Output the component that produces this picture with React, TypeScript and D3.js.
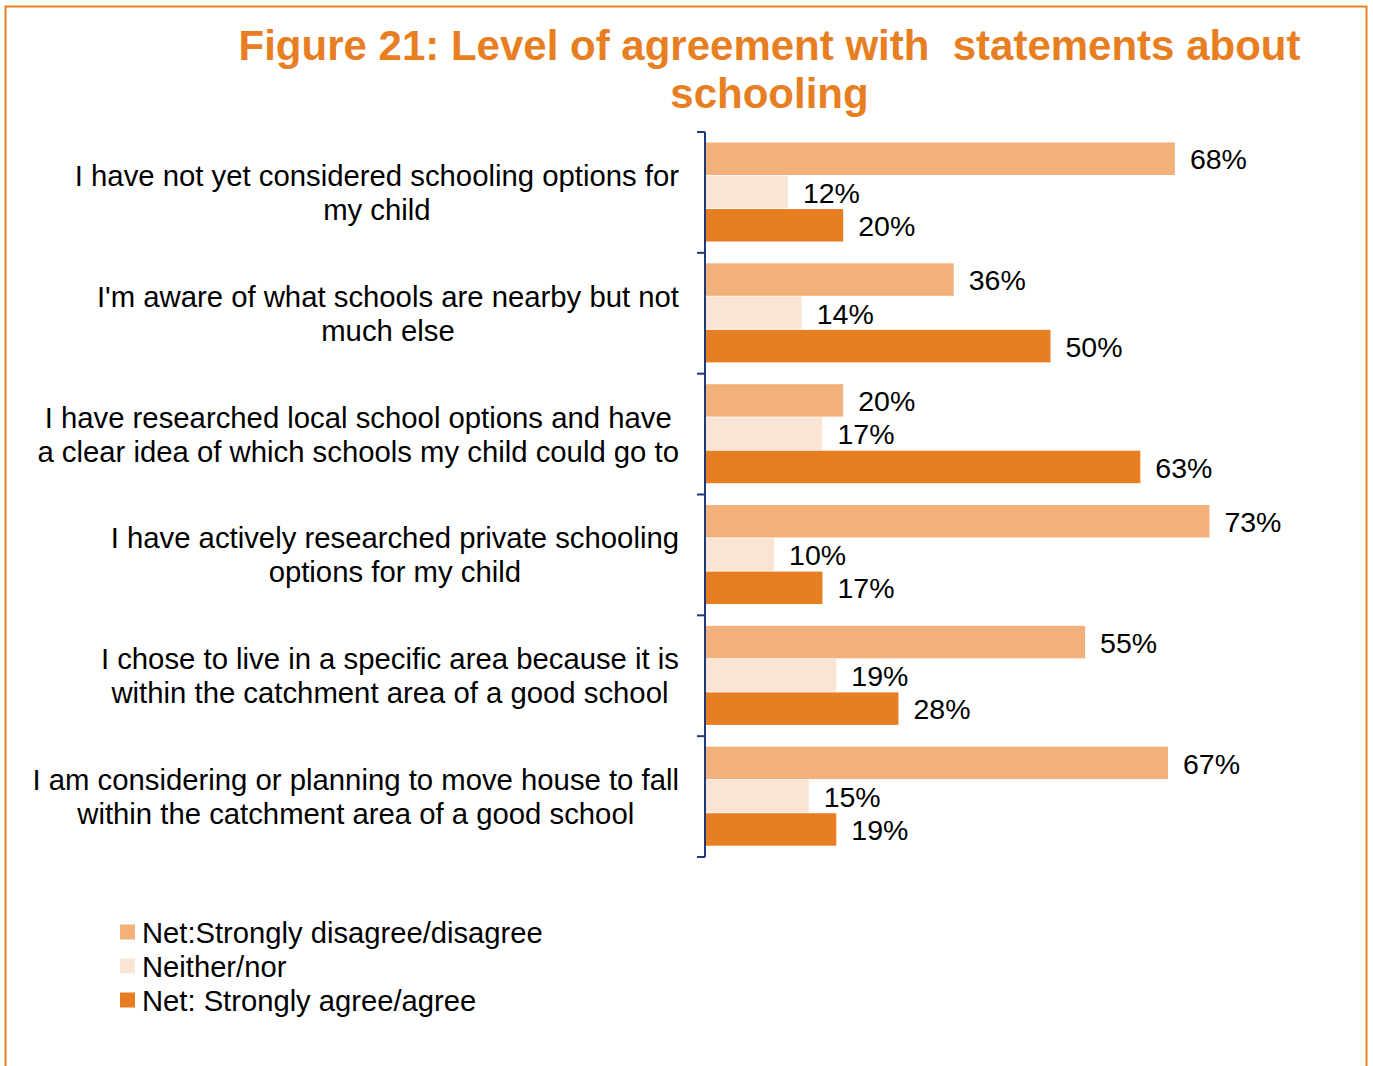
import React, { useEffect, useRef } from "react";
import * as d3 from "d3";

const titleLines = ["Figure 21: Level of agreement with  statements about", "schooling"];
const categories = [
  ["I have not yet considered schooling options for", "my child"],
  ["I'm aware of what schools are nearby but not", "much else"],
  ["I have researched local school options and have", "a clear idea of which schools my child could go to"],
  ["I have actively researched private schooling", "options for my child"],
  ["I chose to live in a specific area because it is", "within the catchment area of a good school"],
  ["I am considering or planning to move house to fall", "within the catchment area of a good school"],
];
const seriesNames = ["Net:Strongly disagree/disagree", "Neither/nor", "Net: Strongly agree/agree"];
const disagree = [68, 36, 20, 73, 55, 67];
const neither = [12, 14, 17, 10, 19, 15];
const agree = [20, 50, 63, 17, 28, 19];
const seriesColors = ["#F2B07A", "#FAE4D4", "#E87E22"];

const W = 1373;
const H = 1066;
const FONT = "'Liberation Sans', Arial, sans-serif";

export default function App() {
  const ref = useRef<SVGSVGElement | null>(null);

  useEffect(() => {
    const svg = d3.select(ref.current);
    svg.selectAll("*").remove();

    // frame
    svg.append("path")
      .attr("d", `M5.5,${H + 5} V6.5 H1366.5 V${H + 5}`)
      .attr("fill", "none")
      .attr("stroke", "#E87E22")
      .attr("stroke-width", 2);

    // title
    const tg = svg.append("g").attr("font-family", FONT).attr("font-weight", "bold")
      .attr("font-size", 42).attr("fill", "#E87E22").attr("text-anchor", "middle");
    tg.selectAll("text").data(titleLines).join("text")
      .attr("x", 769.5)
      .attr("y", (_d, i) => 60 + i * 48)
      .style("white-space", "pre")
      .text((d) => d);

    const series = [disagree, neither, agree];
    const y = d3.scaleBand<number>().domain(d3.range(categories.length)).range([132, 857]);
    const inner = d3.scaleBand<number>().domain([0, 1, 2]).range([10.5, y.bandwidth() - 10.5]);
    const x = d3.scaleLinear().domain([0, 100]).range([705, 705 + 691]);

    // bars
    const bars = svg.append("g");
    categories.forEach((_c, ci) => {
      series.forEach((vals, si) => {
        const y0 = (y(ci) as number) + (inner(si) as number);
        bars.append("rect")
          .attr("x", x(0))
          .attr("y", y0)
          .attr("width", x(vals[ci]) - x(0))
          .attr("height", inner.bandwidth() - 0.8)
          .attr("fill", seriesColors[si]);
        bars.append("text")
          .attr("x", x(vals[ci]) + 15)
          .attr("y", y0 + inner.bandwidth() / 2)
          .attr("dy", "0.36em")
          .attr("font-family", FONT)
          .attr("font-size", 28.5)
          .attr("fill", "#000")
          .text(`${vals[ci]}%`);
      });
    });

    // axis
    const axisColor = "#1F3A78";
    const ax = svg.append("g");
    ax.append("line").attr("x1", 705).attr("x2", 705).attr("y1", 132).attr("y2", 857)
      .attr("stroke", axisColor).attr("stroke-width", 2);
    const tickYs = y.domain().map((d) => y(d) as number).concat([857]);
    ax.selectAll("line.tick").data(tickYs).join("line").attr("class", "tick")
      .attr("x1", 697).attr("x2", 705).attr("y1", (d) => d).attr("y2", (d) => d)
      .attr("stroke", axisColor).attr("stroke-width", 2);

    // category labels
    const lg = svg.append("g").attr("font-family", FONT).attr("font-size", 29.3).attr("fill", "#000");
    categories.forEach((lines, ci) => {
      const cy = (y(ci) as number) + y.bandwidth() / 2;
      const g = lg.append("g");
      const texts = g.selectAll("text").data(lines).join("text")
        .attr("y", (_d, i) => cy + (i - (lines.length - 1) / 2) * 34)
        .attr("dy", "0.36em")
        .attr("text-anchor", "middle")
        .text((d) => d);
      let maxW = 0;
      texts.each(function () {
        maxW = Math.max(maxW, (this as SVGTextElement).getComputedTextLength());
      });
      texts.attr("x", 679 - maxW / 2);
    });

    // legend
    const leg = svg.append("g").attr("font-family", FONT).attr("font-size", 29.2);
    seriesNames.forEach((name, i) => {
      const cy = 932 + i * 34;
      leg.append("rect").attr("x", 120).attr("y", cy - 7.5).attr("width", 15).attr("height", 15)
        .attr("fill", seriesColors[i]);
      leg.append("text").attr("x", 142).attr("y", cy).attr("dy", "0.36em").attr("fill", "#000").text(name);
    });
  }, []);

  return (
    <div style={{ position: "absolute", left: 0, top: 0 }}>
      <svg ref={ref} width={W} height={H} style={{ display: "block", background: "#fff" }} />
    </div>
  );
}
